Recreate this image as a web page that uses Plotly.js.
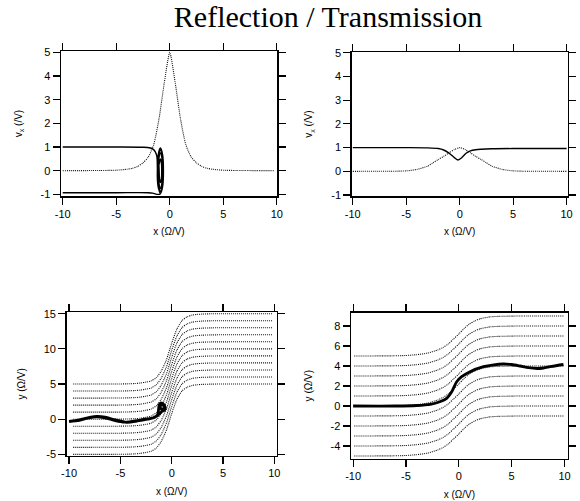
<!DOCTYPE html>
<html><head><meta charset="utf-8">
<script src="https://cdn.plot.ly/plotly-3.0.1.min.js"></script>
<style>html,body{margin:0;padding:0;background:#fff}#chart{width:580px;height:501px}</style>
</head><body><div id="chart"></div>
<script>
// ---------- data ----------
// Panel 1 (reflection): potential profile (dotted) and phase-space trajectory (solid)
const p1PotX = [-10, -6, -5, -4, -3.5, -3, -2.5, -2, -1.5, -1, -0.5, 0, 0.5, 1, 1.5, 2, 2.5, 3, 3.5, 4, 5, 6, 9.8];
const p1PotV = [0, 0.01, 0.02, 0.06, 0.1, 0.18, 0.33, 0.58, 1.1, 2.2, 3.75, 5, 3.75, 2.2, 1.1, 0.58, 0.33, 0.18, 0.1, 0.06, 0.02, 0.01, 0];
const p1TrajX = [-10, -5, -2.5, -1.9, -1.6, -1.35, -1.2,
  -1.15, -1.07, -0.87, -0.67, -0.59, -0.67, -0.87, -1.07,
  -1.07, -1.01, -0.87, -0.73, -0.67, -0.73, -0.87, -1.01,
  -0.99, -0.955, -0.87, -0.785, -0.75, -0.785, -0.87, -0.955,
  -1.11, -1.04, -0.87, -0.70, -0.63, -0.70, -0.87, -1.04,
  -1.16, -1.08, -0.9, -1.1, -1.3, -1.6, -2, -5, -10];
const p1TrajV = [1, 1, 0.99, 0.97, 0.92, 0.8, 0.6,
  0, -0.68, -0.96, -0.68, 0, 0.68, 0.96, 0.68,
  0, -0.53, -0.75, -0.53, 0, 0.53, 0.75, 0.53,
  0, -0.355, -0.5, -0.355, 0, 0.355, 0.5, 0.355,
  0, -0.62, -0.87, -0.62, 0, 0.62, 0.87, 0.62,
  0, -0.7, -0.99, -1.0, -0.99, -0.95, -0.93, -0.93, -0.93];

// Panel 2 (transmission)
const p2PotX = [-10, -6, -5, -4, -3, -2.5, -2, -1.5, -1, -0.5, 0, 0.5, 1, 1.5, 2, 2.5, 3, 4, 5, 6, 10];
const p2PotV = [0, 0.005, 0.02, 0.08, 0.22, 0.36, 0.5, 0.63, 0.78, 0.92, 1, 0.92, 0.78, 0.63, 0.5, 0.36, 0.22, 0.08, 0.02, 0.005, 0];
const p2TrajX = [-10, -5, -3, -2, -1.5, -1, -0.5, -0.15, 0.2, 0.6, 1, 1.5, 2, 3, 5, 10];
const p2TrajV = [1, 1, 0.99, 0.96, 0.9, 0.77, 0.58, 0.48, 0.58, 0.76, 0.86, 0.91, 0.93, 0.95, 0.96, 0.96];

// Panel 3: field lines (start heights + common displacement profile) and trajectory
const p3LineStart = [-5, -4, -3, -2, -1, 0, 1, 2, 3, 4, 5];
const p3ShapeX = [-9.6, -5, -4, -3.5, -3, -2.5, -2, -1.5, -1, -0.5, 0, 0.5, 1, 1.5, 2, 2.5, 3, 4, 9.8];
const p3ShapeDy = [0, 0.01, 0.04, 0.08, 0.15, 0.27, 0.45, 0.9, 1.9, 3.5, 5.8, 7.8, 9.0, 9.55, 9.8, 9.9, 9.95, 9.99, 10];
const p3TrajX = [-10, -9, -8, -7.3, -6.5, -5.5, -4.4, -3.5, -2.6, -2, -1.6, -1.35,
  -1.28, -1.2, -0.95, -0.72, -0.62, -0.8, -1.05, -1.1, -0.9, -0.75, -0.85, -1.1, -1.4, -1.8, -2.2,
  -3, -4, -4.6, -5.5, -6.5, -7.3, -8.2, -9, -10];
const p3TrajY = [-0.35, -0.1, 0.25, 0.4, 0.3, -0.1, -0.45, -0.3, 0, 0.1, 0.3, 0.7,
  1.4, 2.1, 2.3, 2.0, 1.5, 1.2, 1.5, 1.95, 2.05, 1.75, 1.3, 0.9, 0.5, 0.2, 0.05,
  -0.15, -0.35, -0.42, -0.2, 0.2, 0.35, 0.15, -0.15, -0.3];

// Panel 4
const p4LineStart = [-5, -4, -3, -2, -1, 0, 1, 2, 3, 4, 5];
const p4ShapeX = [-9.9, -6, -5, -4, -3, -2, -1.5, -1, -0.5, 0, 0.5, 1, 1.5, 2, 3, 4, 5, 6, 9.9];
const p4ShapeDy = [0, 0.02, 0.05, 0.13, 0.28, 0.6, 0.85, 1.2, 1.7, 2.2, 2.75, 3.2, 3.5, 3.72, 3.92, 3.97, 3.99, 4, 4];
const p4TrajX = [-10, -6, -4, -2.7, -1.8, -1.15, -0.67, -0.2, 0.27, 1.06, 2.33, 3.3, 4.2, 5, 5.8, 6.6, 7.4, 8, 8.64, 9.3, 9.9];
const p4TrajY = [0, 0, 0.05, 0.17, 0.43, 0.77, 1.43, 2.43, 2.93, 3.43, 3.93, 4.12, 4.2, 4.15, 4.0, 3.83, 3.75, 3.8, 3.93, 4.05, 4.15];

// tick labels
const xTickVals = [-10, -5, 0, 5, 10];
const xTickText = ['-10', '-5', '0', '5', '10'];
const y12TickVals = [-1, 0, 1, 2, 3, 4, 5];
const y12TickText = ['-1', '0', '1', '2', '3', '4', '5'];
const y3TickVals = [-5, 0, 5, 10, 15];
const y3TickText = ['-5', '0', '5', '10', '15'];
const y4TickVals = [-4, -2, 0, 2, 4, 6, 8];
const y4TickText = ['-4', '-2', '0', '2', '4', '6', '8'];

// ---------- styles ----------
const dotted = {color: '#111', width: 1.1, dash: '1px,1px', shape: 'spline', smoothing: 0.6};
const solid = {color: '#000', width: 1.4, shape: 'spline', smoothing: 0.8};
const thick = {color: '#000', width: 2.8, shape: 'spline', smoothing: 0.8};

const traces = [];
traces.push({x: p1PotX, y: p1PotV, mode: 'lines', line: dotted, xaxis: 'x', yaxis: 'y'});
traces.push({x: p1TrajX, y: p1TrajV, mode: 'lines', line: solid, xaxis: 'x', yaxis: 'y'});
traces.push({x: p2PotX, y: p2PotV, mode: 'lines', line: dotted, xaxis: 'x2', yaxis: 'y2'});
traces.push({x: p2TrajX, y: p2TrajV, mode: 'lines', line: solid, xaxis: 'x2', yaxis: 'y2'});
p3LineStart.forEach(y0 => traces.push({x: p3ShapeX, y: p3ShapeDy.map(d => y0 + d), mode: 'lines', line: dotted, xaxis: 'x3', yaxis: 'y3'}));
traces.push({x: p3TrajX, y: p3TrajY, mode: 'lines', line: thick, xaxis: 'x3', yaxis: 'y3'});
p4LineStart.forEach(y0 => traces.push({x: p4ShapeX, y: p4ShapeDy.map(d => y0 + d), mode: 'lines', line: dotted, xaxis: 'x4', yaxis: 'y4'}));
traces.push({x: p4TrajX, y: p4TrajY, mode: 'lines', line: thick, xaxis: 'x4', yaxis: 'y4'});

const tickFont = {family: 'Liberation Sans, Arial, sans-serif', size: 11, color: '#000'};
const titleFont = {family: 'Liberation Sans, Arial, sans-serif', size: 10, color: '#000'};
function ax(domain, range, anchor, tv, tt, title, standoff) {
  return {domain: domain, range: range, anchor: anchor, tickmode: 'array', tickvals: tv, ticktext: tt,
    showgrid: false, zeroline: false, showline: true, linecolor: '#000', linewidth: 1.5, mirror: 'ticks',
    ticks: 'outside', ticklen: 7, tickwidth: 1.2, tickcolor: '#000', tickfont: tickFont,
    title: {text: title, font: titleFont, standoff: standoff}};
}
const W = 580, H = 501;
const xd = (a, b) => [a / W, b / W];
const yd = (top, bot) => [1 - bot / H, 1 - top / H];

const layout = {
  width: W, height: H, margin: {l: 0, r: 0, t: 0, b: 0},
  paper_bgcolor: '#fff', plot_bgcolor: '#fff', showlegend: false,
  title: {text: 'Reflection / Transmission', font: {family: 'Liberation Serif, Times New Roman, serif', size: 30, color: '#000'},
    x: 328 / W, xanchor: 'center', xref: 'paper', y: 1 - 16 / H, yanchor: 'middle', yref: 'paper'},
  xaxis: ax(xd(61, 277), [-10.16, 10.02], 'y', xTickVals, xTickText, 'x (Ω/V)', 9),
  yaxis: ax(yd(51, 196), [-1.07, 5.06], 'x', y12TickVals, y12TickText, 'v<sub>x</sub> (/V)', 16),
  xaxis2: ax(xd(351.7, 567.7), [-10.1, 10.1], 'y2', xTickVals, xTickText, 'x (Ω/V)', 9),
  yaxis2: ax(yd(52, 196), [-1.04, 5.03], 'x2', y12TickVals, y12TickText, 'v<sub>x</sub> (/V)', 16),
  xaxis3: ax(xd(66.7, 276.7), [-10.23, 10.23], 'y3', xTickVals, xTickText, 'x (Ω/V)', 9),
  yaxis3: ax(yd(312, 455.7), [-5.19, 15.24], 'x3', y3TickVals, y3TickText, 'y (Ω/V)', 16),
  xaxis4: ax(xd(351, 567.7), [-10.2, 10.3], 'y4', xTickVals, xTickText, 'x (Ω/V)', 9),
  yaxis4: ax(yd(312.7, 458.7), [-5.27, 9.33], 'x4', y4TickVals, y4TickText, 'y (Ω/V)', 16)
};
Plotly.newPlot('chart', traces, layout, {staticPlot: true, displayModeBar: false});
</script></body></html>
